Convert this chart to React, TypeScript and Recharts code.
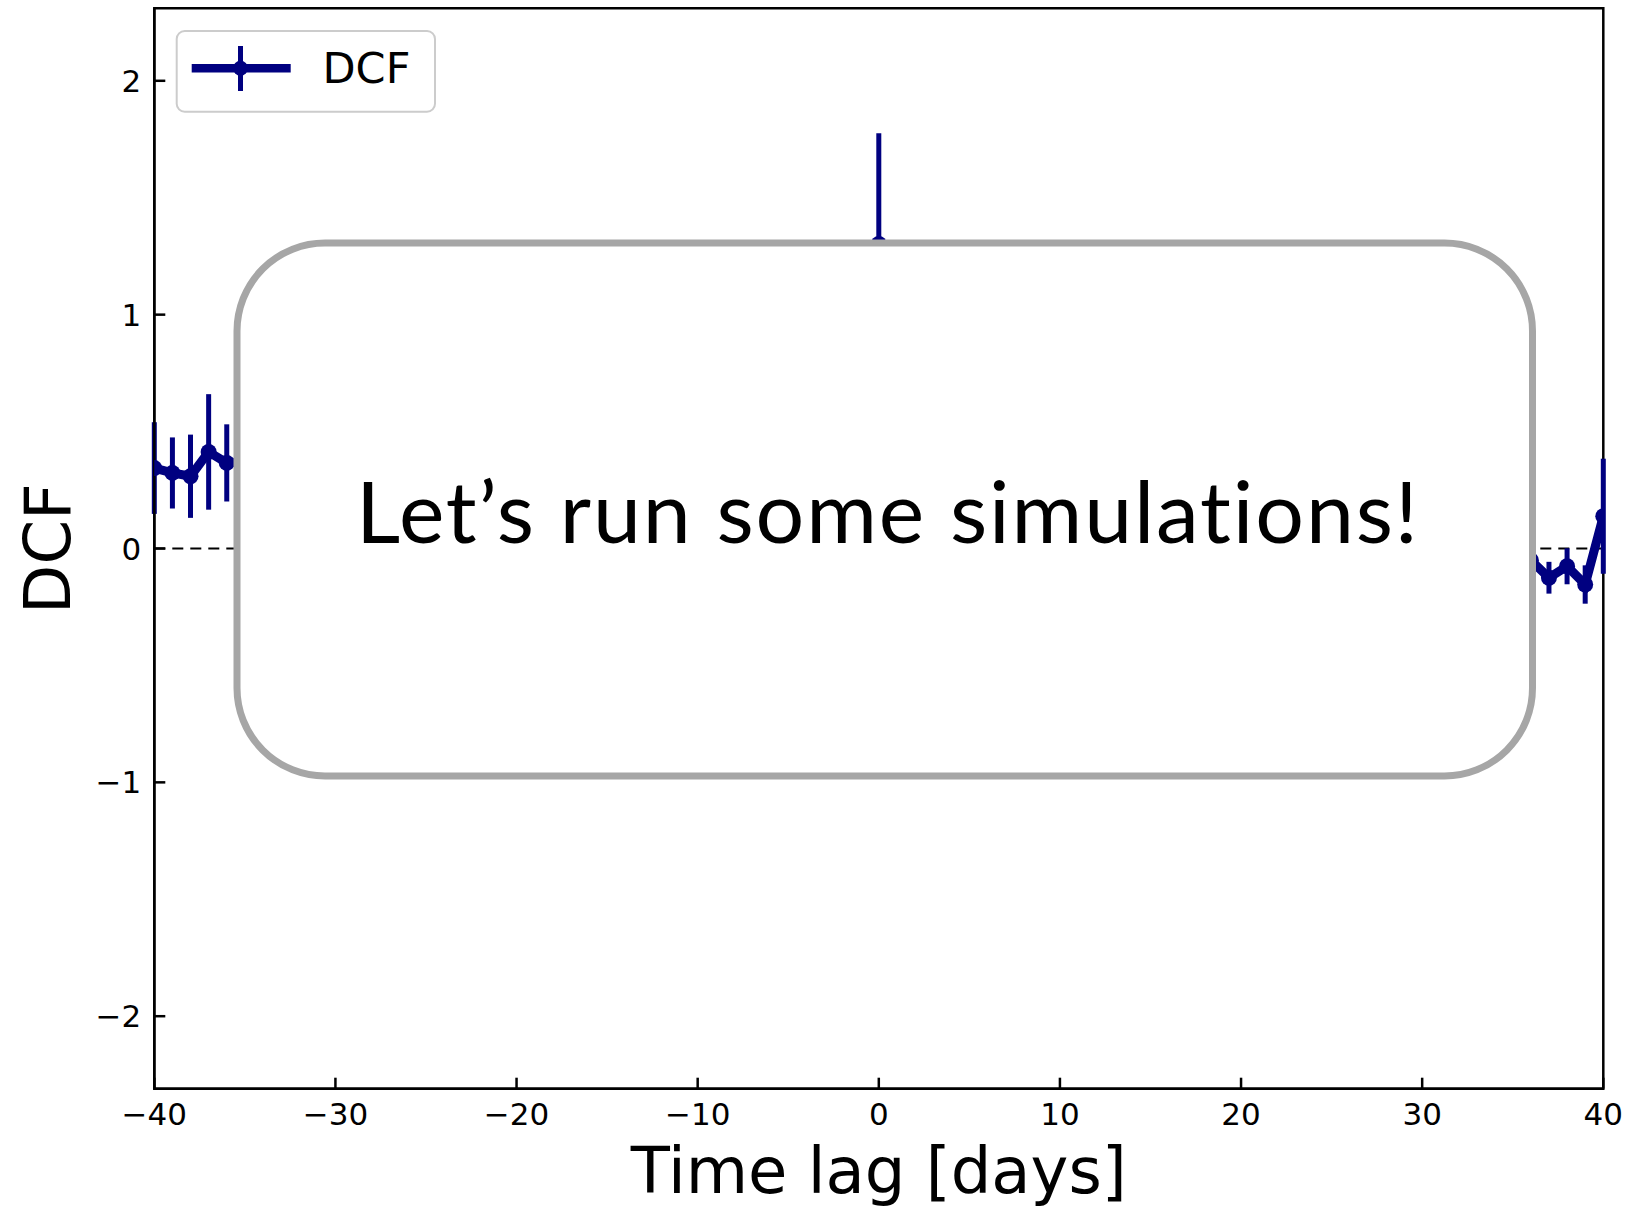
import React from 'react';
import {
  ComposedChart,
  Line,
  XAxis,
  YAxis,
  ErrorBar,
  ReferenceLine,
  ReferenceArea,
  Legend,
} from 'recharts';

// ---- data (points under the overlay are not visible) ----
const lags = [-40, -39, -38, -37, -36, -35, 0, 36, 37, 38, 39, 40];
const dcfValues = [0.344, 0.323, 0.309, 0.413, 0.366, 0.37, 1.302, -0.05, -0.125, -0.076, -0.154, 0.138];
const dcfErrors = [0.196, 0.152, 0.178, 0.247, 0.165, 0.17, 0.474, 0.08, 0.068, 0.077, 0.082, 0.246];

const xTicks = [-40, -30, -20, -10, 0, 10, 20, 30, 40];
const yTicks = [-2, -1, 0, 1, 2];
const xDomain: [number, number] = [-40, 40];
const yDomain: [number, number] = [-2.31, 2.31];

const seriesName = 'DCF';
const xLabel = 'Time lag [days]';
const yLabel = 'DCF';
const overlayText = 'Let\u2019s run some simulations!';

const data = lags.map((lag, i) => ({ lag, dcf: dcfValues[i], err: dcfErrors[i] }));

const NAVY = '#000080';
const FONT = "'DejaVu Sans', sans-serif";
const W = 1633;
const H = 1209;

const fmt = (v: number) => (v < 0 ? `\u2212${Math.abs(v)}` : `${v}`);

const XTick = (props: any) => {
  const { x, y, payload } = props;
  return (
    <g>
      <line x1={x} x2={x} y1={y} y2={y - 11} stroke="#000" strokeWidth={2.5} />
      <text x={x} y={y + 36} textAnchor="middle" fontFamily={FONT} fontSize={31} fill="#000">
        {fmt(payload.value)}
      </text>
    </g>
  );
};

const YTick = (props: any) => {
  const { x, y, payload } = props;
  return (
    <g>
      <line x1={x} x2={x + 11} y1={y} y2={y} stroke="#000" strokeWidth={2.5} />
      <text x={x - 13} y={y + 11} textAnchor="end" fontFamily={FONT} fontSize={31} fill="#000">
        {fmt(payload.value)}
      </text>
    </g>
  );
};

const LegendBox = () => (
  <svg width={262} height={84} style={{ display: 'block', overflow: 'visible' }}>
    <rect x={1.7} y={1} width={258.3} height={80.7} rx={8} ry={8} fill="#fff" fillOpacity={0.8} stroke="#cccccc" strokeWidth={2} />
    <line x1={16.7} x2={115.7} y1={38.3} y2={38.3} stroke={NAVY} strokeWidth={8.5} />
    <line x1={65.5} x2={65.5} y1={16} y2={61} stroke={NAVY} strokeWidth={5} />
    <circle cx={65.5} cy={38.3} r={7.5} fill={NAVY} />
    <text x={147.5} y={53.3} fontFamily={FONT} fontSize={43} fill="#000">
      {seriesName}
    </text>
  </svg>
);

export default function App() {
  return (
    <div style={{ position: 'absolute', left: 0, top: 0, width: W, height: H, background: '#fff' }}>
      <ComposedChart
        width={W}
        height={H}
        data={data}
        margin={{ top: 8.3, right: 29.7, bottom: 60.3, left: 54.3 }}
      >
        <XAxis
          dataKey="lag"
          type="number"
          domain={xDomain}
          ticks={xTicks}
          interval={0}
          allowDataOverflow
          height={60}
          tickSize={0}
          tickMargin={0}
          tickLine={false}
          axisLine={{ stroke: '#000', strokeWidth: 2.5 }}
          tick={<XTick />}
          label={{
            content: (p: any) => {
              const vb = p.viewBox || {};
              return (
                <text
                  x={vb.x + vb.width / 2}
                  y={vb.y + 104.6}
                  textAnchor="middle"
                  fontFamily={FONT}
                  fontSize={64}
                  fill="#000"
                >
                  {xLabel}
                </text>
              );
            },
          }}
        />
        <YAxis
          type="number"
          domain={yDomain}
          ticks={yTicks}
          interval={0}
          allowDataOverflow
          width={100}
          tickSize={0}
          tickMargin={0}
          tickLine={false}
          axisLine={{ stroke: '#000', strokeWidth: 2.5 }}
          tick={<YTick />}
          label={{
            content: (p: any) => {
              const vb = p.viewBox || {};
              const lx = vb.x + vb.width - 84.3;
              const ly = vb.y + vb.height / 2;
              return (
                <text
                  x={lx}
                  y={ly}
                  transform={`rotate(-90, ${lx}, ${ly})`}
                  textAnchor="middle"
                  fontFamily={FONT}
                  fontSize={64}
                  fill="#000"
                >
                  {yLabel}
                </text>
              );
            },
          }}
        />
        <ReferenceArea
          x1={xDomain[0]}
          x2={xDomain[1]}
          y1={yDomain[0]}
          y2={yDomain[1]}
          fill="none"
          fillOpacity={0}
          stroke="#000"
          strokeWidth={2.5}
        />
        <ReferenceLine y={0} stroke="#000" strokeWidth={2} strokeDasharray="11 7" />
        <Legend
          layout="horizontal"
          verticalAlign="middle"
          align="center"
          wrapperStyle={{ left: 175, top: 30, width: 262, height: 84, margin: 0 }}
          content={() => <LegendBox />}
        />
        <Line
          dataKey="dcf"
          name={seriesName}
          type="linear"
          stroke={NAVY}
          strokeWidth={9}
          dot={{ r: 8, fill: NAVY, stroke: NAVY, strokeWidth: 0 }}
          activeDot={false}
          isAnimationActive={false}
        >
          <ErrorBar dataKey="err" direction="y" width={0} stroke={NAVY} strokeWidth={5} isAnimationActive={false} />
        </Line>
      </ComposedChart>
      <svg
        width={W}
        height={H}
        style={{ position: 'absolute', left: 0, top: 0, pointerEvents: 'none' }}
      >
        <rect x={237} y={243} width={1295.5} height={533} rx={88} ry={88} fill="#fff" stroke="#a6a6a6" strokeWidth={7} />
        <text
          x={887}
          y={543.3}
          textAnchor="middle"
          fontFamily="Lato, 'Open Sans', sans-serif"
          fontSize={86}
          fill="#000"
          textLength={1062}
          lengthAdjust="spacing"
          style={{ fontVariantLigatures: 'none', fontFeatureSettings: '"liga" 0, "clig" 0' }}
        >
          {overlayText}
        </text>
      </svg>
    </div>
  );
}
